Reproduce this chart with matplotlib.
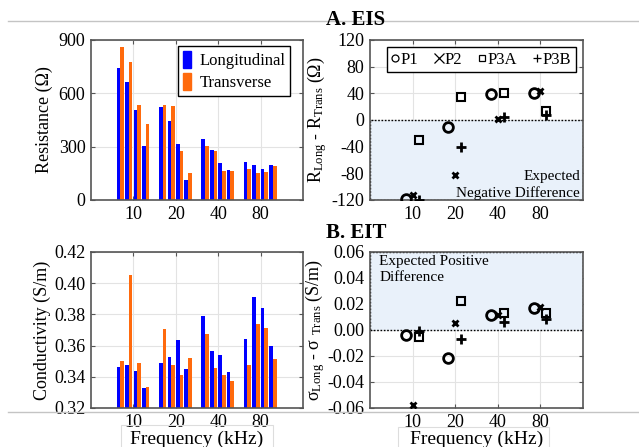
import numpy as np
import matplotlib
matplotlib.use("Agg")
import matplotlib.pyplot as plt
from matplotlib.lines import Line2D
from matplotlib.patches import Rectangle, Patch

plt.rcParams['font.family'] = ['Liberation Serif', 'DejaVu Serif']
plt.rcParams['mathtext.fontset'] = 'custom'
plt.rcParams['mathtext.rm'] = 'Liberation Serif'
plt.rcParams['mathtext.it'] = 'Liberation Serif:italic'
plt.rcParams['axes.unicode_minus'] = False

# frequencies (kHz) and probes
freqs = ['10', '20', '40', '80']
probes = ['P1', 'P2', 'P3A', 'P3B']

# resistance (ohm), rows = frequency, columns = probe
res_long = np.array([[740, 665, 506, 306],
                     [521, 446, 313, 112],
                     [341, 280, 206, 169],
                     [212, 197, 172, 199]])
res_trans = np.array([[858, 778, 536, 426],
                      [532, 528, 278, 153],
                      [302, 278, 165, 165],
                      [172, 153, 159, 192]])

# conductivity (S/m), rows = frequency, columns = probe
cond_long = np.array([[0.3463, 0.3476, 0.3435, 0.3330],
                      [0.3488, 0.3525, 0.3634, 0.3452],
                      [0.3790, 0.3568, 0.3540, 0.3431],
                      [0.3644, 0.3912, 0.3843, 0.3600]])
cond_trans = np.array([[0.3499, 0.4055, 0.3488, 0.3337],
                       [0.3706, 0.3474, 0.3412, 0.3520],
                       [0.3674, 0.3454, 0.3412, 0.3373],
                       [0.3476, 0.3736, 0.3713, 0.3512]])

BLUE = '#0000ff'
ORANGE = '#ff6a0d'
SHADE = '#e9f1fa'
GRID = '#e3e3e3'

x = np.arange(1, 5)
pair_off = np.array([-0.31, -0.11, 0.09, 0.29])
bar_w = 0.085
mark_off = [-0.16, 0.0, 0.14, 0.14]
markers = ['o', 'x', 's', '+']
msizes = [7, 4.5, 6, 7]
mews = [2.0, 2.0, 1.5, 2.0]
# thinner glyphs for the legend key
leg_sizes = [5, 7, 5, 6]


def style_axes(ax):
    ax.set_xlim(0, 5)
    ax.set_xticks(x)
    ax.set_xticklabels(freqs)
    ax.tick_params(direction='in', top=True, right=True, labelsize=13,
                   length=3, color='#555555', pad=4)
    ax.grid(True, color=GRID, lw=0.8)
    ax.set_axisbelow(True)
    for s in ax.spines.values():
        s.set_color('#555555')
        s.set_linewidth(1.2)


def draw_bars(ax, long_vals, trans_vals):
    for j in range(4):
        ax.bar(x + pair_off[j] - bar_w / 2, long_vals[:, j], bar_w, color=BLUE, zorder=2)
        ax.bar(x + pair_off[j] + bar_w / 2, trans_vals[:, j], bar_w, color=ORANGE, zorder=2)


def draw_diffs(ax, diff):
    for j in range(4):
        ax.plot(x + mark_off[j], diff[:, j], ls='none', marker=markers[j],
                ms=msizes[j], mew=mews[j], mfc='none', mec='black',
                color='black', zorder=3)


fig = plt.figure(figsize=(6.39, 4.47), dpi=100)

# page rules and caption boxes behind the panels
fig.add_artist(Line2D([8 / 639, 1], [1 - 21 / 447] * 2, color='#c4c4c4', lw=1))
fig.add_artist(Line2D([8 / 639, 1], [1 - 412 / 447] * 2, color='#c4c4c4', lw=1))
fig.add_artist(Rectangle((121 / 639, -0.01), 152 / 639, 1 - 425 / 447 + 0.01,
                         fill=False, ec='#dddddd', lw=0.8))
fig.add_artist(Rectangle((398 / 639, -0.01), 151 / 639, 1 - 427 / 447 + 0.01,
                         fill=False, ec='#dddddd', lw=0.8))

ax1 = fig.add_axes([91 / 639, 1 - 200 / 447, 212 / 639, 160 / 447])
ax2 = fig.add_axes([370 / 639, 1 - 200 / 447, 213 / 639, 160 / 447])
ax3 = fig.add_axes([91 / 639, 1 - 408 / 447, 212 / 639, 156 / 447])
ax4 = fig.add_axes([370 / 639, 1 - 408 / 447, 213 / 639, 156 / 447])

# A. resistance bars
style_axes(ax1)
draw_bars(ax1, res_long, res_trans)
ax1.set_ylim(0, 900)
ax1.set_yticks([0, 300, 600, 900])
ax1.set_ylabel('Resistance (Ω)', fontsize=13, labelpad=4)
ax1.legend(handles=[Patch(color=BLUE), Patch(color=ORANGE)],
           labels=['Longitudinal', 'Transverse'], loc='upper right',
           bbox_to_anchor=(0.94, 0.965),
           fontsize=12, handlelength=0.5, handleheight=1.2, handletextpad=0.5,
           fancybox=False, edgecolor='black', framealpha=1,
           borderpad=0.3, labelspacing=0.25, borderaxespad=0)

# A. resistance differences
style_axes(ax2)
ax2.set_ylim(-120, 120)
ax2.set_yticks(np.arange(-120, 121, 40))
ax2.add_patch(Rectangle((0, -120), 5, 120, facecolor=SHADE, edgecolor='black',
                        ls=(0, (1.2, 1.2)), lw=1, zorder=1))
draw_diffs(ax2, res_long - res_trans)
ax2.text(4.93, -97, 'Expected\nNegative Difference', ha='right', va='center',
         multialignment='right', fontsize=11, linespacing=1.3, zorder=4)
ax2.set_ylabel(r'R$_{\rm Long}$ - R$_{\rm Trans}$ (Ω)', fontsize=13, labelpad=2)
keys = [Line2D([], [], ls='none', marker=markers[j], ms=leg_sizes[j], mew=0.9,
               mfc='none', mec='black') for j in range(4)]
ax2.legend(handles=keys, labels=probes, loc='upper right', ncol=4, fontsize=12,
           handlelength=0.45, handletextpad=0.1, columnspacing=1.0,
           fancybox=False, edgecolor='black', framealpha=1,
           borderpad=0.25, borderaxespad=0.45)

# B. conductivity bars
style_axes(ax3)
draw_bars(ax3, cond_long, cond_trans)
ax3.set_ylim(0.32, 0.42)
ax3.set_yticks(np.arange(0.32, 0.421, 0.02))
ax3.set_yticklabels(['%.2f' % v for v in np.arange(0.32, 0.421, 0.02)])
ax3.set_ylabel('Conductivity (S/m)', fontsize=13, labelpad=2)
ax3.set_xlabel('Frequency (kHz)', fontsize=14, labelpad=0)

# B. conductivity differences
style_axes(ax4)
ax4.set_ylim(-0.06, 0.06)
ticks = np.arange(-0.06, 0.061, 0.02)
ax4.set_yticks(ticks)
ax4.set_yticklabels(['%.2f' % (0 if abs(v) < 1e-9 else v) for v in ticks])
ax4.add_patch(Rectangle((0, 0), 5, 0.06, facecolor=SHADE, edgecolor='black',
                        ls=(0, (1.2, 1.2)), lw=1, zorder=1))
draw_diffs(ax4, cond_long - cond_trans)
ax4.text(0.22, 0.0575, 'Expected Positive\nDifference', ha='left', va='top',
         fontsize=11, linespacing=1.3, zorder=4)
ax4.set_ylabel(r'σ$_{\rm Long}$ - σ $_{\rm Trans}$ (S/m)', fontsize=13, labelpad=0)
ax4.set_xlabel('Frequency (kHz)', fontsize=14, labelpad=0)

fig.text(356 / 639, 1 - 20 / 447, 'A. EIS', ha='center', va='center',
         fontsize=15, fontweight='bold')
fig.text(356 / 639, 1 - 233 / 447, 'B. EIT', ha='center', va='center',
         fontsize=15, fontweight='bold')

fig.savefig('out.png', dpi=100)
